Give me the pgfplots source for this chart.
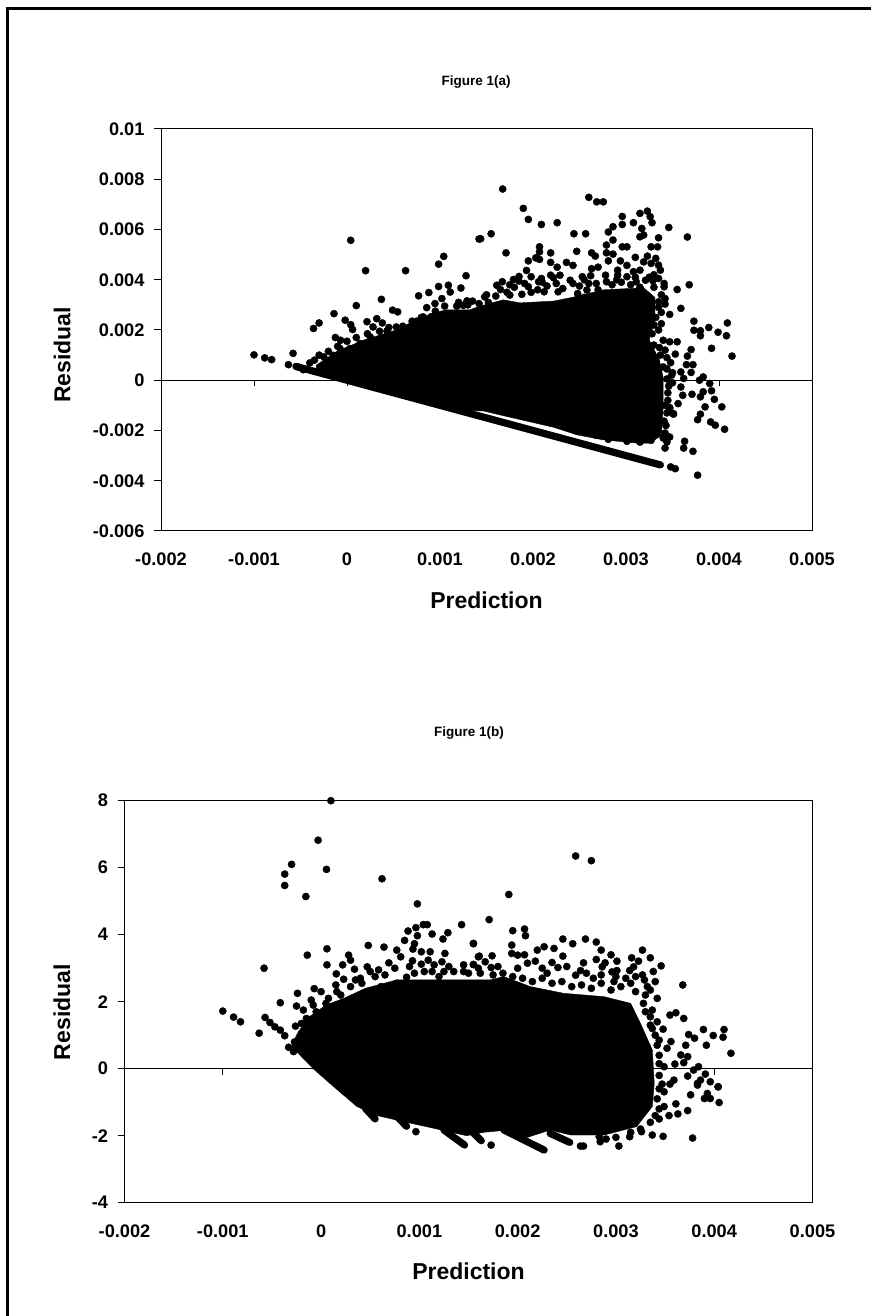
\documentclass[border=0pt]{standalone}
\usepackage{pgfplots}
\usepackage{pgfplotstable}
\usepackage{fontspec}
\setmainfont{Liberation Sans}
\pgfplotsset{compat=1.18}
% x and (in a) y columns are in units of 0.001
\pgfplotstableread[row sep=\\]{x y\\
-1.00 1.01\\ -0.885 0.89\\ -0.81 0.82\\ -0.63 0.62\\ -0.58 1.07\\ -0.52 0.52\\ -0.47 0.42\\ -0.40 0.69\\ -0.36 2.06\\ -0.30 2.28\\ -0.14 2.65\\ -0.125 1.70\\ -0.07 1.59\\ -0.075 1.26\\ -0.02 2.39\\ 0.04 5.57\\ 0.04 2.21\\ 0.06 2.02\\ 0.10 2.97\\ 0.20 4.36\\ 0.215 2.33\\ 0.32 2.45\\ 0.28 2.12\\ 0.38 2.28\\ 0.37 3.22\\ 0.63 4.36\\ 0.49 2.79\\ 0.545 2.72\\ 0.77 3.36\\ 0.88 3.49\\ 0.985 4.62\\ 1.04 4.93\\ 0.985 3.73\\ 1.09 3.78\\ 1.11 3.51\\ 1.28 4.16\\ 1.225 3.67\\ 1.29 3.16\\ 1.42 5.62\\ 1.25 2.98\\ 0.857 2.89\\ 1.02 3.25\\ 0.946 3.05\\ 0.75 2.35\\ 0.82 2.52\\ 0.67 2.12\\ 0.53 2.12\\ 0.43 1.96\\ 0.25 1.72\\ 0.14 1.46\\ 0.03 1.26\\ -0.147 0.99\\ -0.25 0.93\\ 0.34 1.62\\ 1.36 2.65\\
1.674 7.61\\ 2.60 7.28\\ 2.685 7.10\\ 2.756 7.10\\ 1.896 6.84\\ 1.95 6.40\\ 2.09 6.20\\ 2.26 6.27\\ 1.437 5.63\\ 1.55 5.83\\ 1.71 5.07\\ 2.44 5.83\\ 2.566 5.83\\ 2.96 6.52\\ 2.96 6.20\\ 3.08 6.27\\ 3.15 6.64\\ 3.23 6.73\\ 3.26 6.51\\ 3.28 6.27\\ 2.86 6.11\\ 2.81 5.90\\ 3.46 6.08\\ 3.66 5.70\\ 3.17 6.04\\ 3.19 5.78\\ 3.15 5.71\\ 3.35 5.67\\ 2.86 5.58\\ 2.79 5.38\\ 2.96 5.31\\ 3.01 5.31\\ 3.27 5.31\\ 3.34 5.31\\ 2.07 5.31\\ 2.07 5.11\\ 2.19 5.07\\ 2.47 5.13\\ 2.63 5.07\\ 2.67 4.94\\ 2.79 5.07\\ 2.86 5.02\\ 3.10 4.89\\ 3.23 4.94\\ 3.32 4.85\\ 1.95 4.75\\ 2.03 4.87\\ 2.07 4.81\\ 2.19 4.69\\ 2.36 4.69\\ 2.43 4.57\\ 2.81 4.75\\ 2.94 4.75\\ 3.01 4.57\\ 3.19 4.71\\ 3.27 4.65\\ 3.35 4.58\\ 3.37 4.38\\ 2.26 4.50\\ 1.93 4.37\\ 2.70 4.50\\ 2.63 4.44\\ 2.91 4.38\\ 3.08 4.32\\ 3.15 4.38\\ 1.85 4.13\\ 1.79 4.01\\ 1.98 4.12\\ 2.09 4.05\\ 2.19 4.18\\ 2.29 4.18\\ 2.22 4.08\\ 2.53 4.12\\ 2.62 4.16\\ 2.78 4.18\\ 2.91 4.18\\ 3.01 4.12\\ 1.61 3.78\\ 1.67 3.92\\ 1.65 3.61\\ 1.91 3.85\\ 2.06 3.92\\ 1.95 3.72\\ 2.40 3.98\\ 2.43 3.85\\ 2.68 3.85\\ 2.79 3.92\\ 3.11 3.92\\ 3.21 3.98\\ 3.29 3.96\\ 3.41 3.85\\ 3.41 3.72\\ 3.55 3.61\\ 3.68 3.80\\ 1.48 3.32\\ 1.75 3.39\\ 2.12 3.52\\ 2.27 3.52\\ 2.48 3.45\\ 2.58 3.59\\ 3.59 2.86\\ 3.35 3.12\\ 3.42 3.03\\ 3.47 2.62\\ 3.73 2.35\\ 3.73 1.99\\ 3.80 1.97\\ 3.80 1.77\\ 3.89 2.10\\ 3.99 1.91\\ 4.09 2.28\\ 4.08 1.77\\ 3.92 1.27\\ 4.14 0.96\\ 3.55 1.53\\ 3.47 1.53\\ 3.40 1.59\\ 3.70 1.22\\ 3.66 0.96\\ 3.53 1.04\\ 3.37 1.0\\ 3.65 0.62\\ 3.72 0.62\\ 3.70 0.31\\ 3.40 0.53\\ 3.49 0.2\\ 3.59 0.33\\ 3.62 0.07\\ 3.83 0.13\\ 3.79 0\\ 3.90 -0.13\\ 3.92 -0.42\\ 3.46 -0.23\\ 3.59 -0.27\\ 3.61 -0.6\\ 3.71 -0.56\\ 3.80 -0.66\\ 3.83 -0.46\\ 3.95 -0.76\\ 4.03 -1.06\\ 3.85 -1.06\\ 3.56 -0.93\\ 3.47 -1.09\\ 3.51 -1.33\\
3.47 -1.13\\ 3.51 -1.35\\ 3.41 -1.63\\ 3.80 -1.35\\ 3.77 -1.57\\ 3.91 -1.66\\ 3.96 -1.79\\ 4.06 -1.95\\ 3.47 -2.26\\ 3.44 -2.46\\ 3.42 -2.70\\ 3.63 -2.43\\ 3.62 -2.70\\ 3.72 -2.83\\ 3.48 -3.45\\ 3.53 -3.52\\ 3.77 -3.78\\ 3.35 -1.86\\ 3.33 -2.12\\ 3.27 -2.39\\ 3.15 -2.46\\ 3.01 -2.43\\ 2.81 -2.35\\ 2.68 -2.19\\
1.52 3.1\\ 1.6 3.35\\ 1.72 3.5\\ 1.8 3.7\\ 1.88 3.42\\ 1.98 3.5\\ 2.05 3.6\\ 2.15 3.75\\ 2.25 3.85\\ 2.32 3.65\\ 2.5 3.75\\ 2.6 3.85\\ 2.7 3.6\\ 2.85 3.8\\ 2.95 3.9\\ 3.05 3.8\\ 3.15 3.7\\ 3.3 3.7\\ 2.55 3.3\\ 2.9 4.0\\ 3.1 4.1\\ 3.3 4.2\\ 3.25 4.1\\ 3.35 4.05\\ 2.55 4.0\\ 2.1 3.9\\ 1.85 3.95\\ 1.75 3.8\\ 3.38 3.4\\ 3.42 3.25\\ 3.35 2.9\\ 3.38 2.7\\ 3.32 2.5\\ 3.3 2.2\\ 3.38 2.25\\ 3.35 2.0\\ 3.28 1.85\\ 3.3 1.4\\ 3.36 1.3\\ 3.42 1.2\\ 3.44 0.9\\ 3.48 0.7\\ 3.44 0.45\\ 3.5 0.3\\ 3.44 0.05\\ 3.5 -0.1\\ 3.45 -0.5\\ 3.45 -0.8\\ 3.42 -1.0\\ 3.44 -1.3\\ 3.43 -1.8\\ 3.42 -2.1\\ 3.4 -2.3\\ 1.42 3.05\\ 1.3 3.0\\ 1.18 2.95\\ 1.05 2.95\\ 0.95 2.75\\ 0.8 2.5\\ 0.7 2.35\\ 0.6 2.15\\ 0.45 2.1\\ 0.35 1.95\\ 0.22 1.85\\ 0.1 1.7\\ 0.0 1.55\\ -0.1 1.35\\ -0.2 1.15\\ -0.3 1.0\\ -0.35 0.8\\ 1.2 3.1\\ 1.35 3.15\\ 1.5 3.4\\
}\ptsA
\pgfplotstableread[row sep=\\]{x y\\
-0.33 0.33\\ -0.33 0.6\\ -0.11 1.15\\ 0.18 1.6\\ 0.53 2.0\\ 0.785 2.35\\ 0.89 2.65\\ 1.07 2.8\\ 1.32 2.8\\ 1.43 2.95\\ 1.68 3.2\\ 1.86 3.08\\ 2.22 3.15\\ 2.40 3.28\\ 2.76 3.6\\ 3.19 3.68\\ 3.31 3.3\\ 3.31 2.39\\ 3.25 1.6\\ 3.36 0.8\\ 3.40 0.1\\ 3.40 -1.06\\ 3.38 -2.19\\ 3.26 -2.5\\ 3.11 -2.5\\ 2.75 -2.37\\ 2.47 -2.17\\ 2.22 -1.87\\ 1.68 -1.41\\ 1.465 -1.22\\ 1.2 -1.2\\
}\blobA
\pgfplotstableread[row sep=\\]{x y\\
-0.55 0.55\\ 3.37 -3.37\\
}\lineA
\pgfplotstableread[row sep=\\]{x y\\
0.10 8.0\\ -0.03 6.82\\ -0.30 6.10\\ -0.37 5.81\\ -0.37 5.47\\ 0.055 5.95\\ -0.155 5.14\\ 0.62 5.67\\ 0.98 4.92\\ 1.04 4.30\\ 1.08 4.30\\ 0.965 4.21\\ 0.885 4.11\\ 1.43 4.30\\ 1.13 4.02\\ 0.98 3.97\\ 1.29 4.06\\ 1.24 3.87\\ 0.85 3.83\\ 0.95 3.73\\ 0.935 3.57\\ 1.55 3.73\\ 0.48 3.68\\ 0.64 3.63\\ 0.77 3.54\\ 0.06 3.58\\ -0.14 3.39\\ 0.28 3.39\\ 0.30 3.24\\ -0.58 3.00\\ 0.06 3.10\\ 0.22 3.10\\ 0.34 2.97\\ 0.47 3.04\\ 0.585 2.95\\ 0.69 3.16\\ 0.81 3.34\\ 0.93 3.22\\ 1.02 3.49\\ 1.11 3.49\\ 1.02 3.12\\ 1.09 3.24\\ 1.23 3.19\\ 1.26 3.44\\ 1.60 3.34\\ 1.55 3.11\\ 0.155 2.83\\ 0.23 2.67\\ 0.415 2.55\\ 0.61 2.45\\ -0.07 2.39\\ -0.24 2.25\\ -0.415 1.97\\ -0.25 1.87\\ -1.0 1.72\\ -0.89 1.54\\ -0.82 1.40\\ -0.63 1.06\\ -0.57 1.53\\ -0.52 1.38\\ -0.47 1.25\\ -0.415 1.15\\ -0.37 0.985\\ -0.26 1.27\\ -0.18 1.75\\ -0.08 1.90\\ 0.075 2.10\\ 0.16 2.30\\ 0.30 2.45\\ -0.33 0.64\\ -0.28 0.51\\ 1.13 2.90\\ 1.25 2.90\\ 1.35 2.90\\ 1.45 2.90\\ 0.77 2.55\\ 0.87 2.73\\
2.59 6.35\\ 2.75 6.21\\ 1.91 5.20\\ 1.71 4.45\\ 1.55 3.74\\ 1.95 4.12\\ 2.07 4.17\\ 2.08 3.97\\ 1.94 3.69\\ 1.94 3.44\\ 2.0 3.39\\ 2.07 3.40\\ 1.61 3.36\\ 1.74 3.37\\ 1.67 3.19\\ 1.55 3.11\\ 1.73 3.02\\ 2.20 3.54\\ 2.27 3.64\\ 2.37 3.59\\ 2.46 3.87\\ 2.56 3.73\\ 2.69 3.87\\ 2.80 3.78\\ 2.85 3.54\\ 2.46 3.36\\ 2.18 3.21\\ 2.35 3.17\\ 2.41 3.02\\ 2.67 3.16\\ 2.80 3.26\\ 2.86 3.04\\ 2.89 3.16\\ 2.95 3.40\\ 3.01 3.21\\ 3.16 3.31\\ 3.23 3.21\\ 3.27 3.54\\ 3.35 3.31\\ 3.46 3.07\\ 3.18 3.04\\ 3.14 2.93\\ 2.64 2.93\\ 2.59 2.79\\ 2.96 2.89\\ 3.01 2.93\\ 3.27 2.80\\ 3.68 2.50\\ 2.77 2.70\\ 2.98 2.60\\ 3.29 2.65\\ 3.32 2.45\\ 3.35 2.35\\ 3.42 2.10\\ 3.55 1.60\\ 3.61 1.67\\ 3.69 1.50\\ 3.37 1.75\\ 3.42 1.40\\ 3.48 1.18\\ 3.37 1.20\\ 3.44 0.85\\ 3.56 0.81\\ 3.52 0.61\\ 3.89 1.17\\ 3.74 1.02\\ 3.80 0.91\\ 3.99 0.99\\ 4.09 0.94\\ 4.10 1.17\\ 3.92 0.70\\ 3.71 0.70\\ 4.17 0.46\\ 3.66 0.41\\ 3.73 0.36\\ 3.69 0.18\\ 3.60 0.14\\ 3.49 0.06\\ 3.84 0.06\\ 3.79 -0.04\\ 3.91 -0.16\\ 3.73 -0.22\\ 3.96 -0.39\\ 4.04 -0.54\\ 3.83 -0.44\\ 3.55 -0.46\\ 3.47 -0.46\\
1.73 -2.28\\ 0.965 -1.88\\ 2.64 -2.31\\ 2.67 -2.31\\ 2.84 -2.18\\ 2.83 -2.03\\ 3.03 -2.31\\ 3.14 -2.03\\ 3.26 -1.88\\ 3.37 -1.98\\ 3.48 -2.02\\ 3.78 -2.07\\ 3.44 -1.50\\ 3.54 -1.40\\ 3.63 -1.35\\ 3.73 -1.25\\ 3.61 -1.05\\ 3.49 -1.13\\ 3.76 -0.78\\ 3.93 -0.74\\ 3.90 -0.89\\ 3.96 -0.89\\ 4.05 -1.01\\ 4.04 -0.54\\ 3.83 -0.49\\ 3.86 -0.34\\ 3.49 -0.69\\ 3.59 -0.34\\
0.4 2.7\\ 0.55 2.75\\ 0.65 2.8\\ 0.95 2.85\\ 1.05 2.9\\ 1.2 2.75\\ 1.5 2.85\\ 1.62 2.85\\ 1.75 2.8\\ 1.85 2.85\\ 1.95 2.75\\ 2.05 2.7\\ 2.15 2.6\\ 2.25 2.7\\ 2.35 2.55\\ 2.45 2.6\\ 2.55 2.45\\ 2.65 2.5\\ 2.75 2.4\\ 2.85 2.55\\ 2.95 2.35\\ 3.05 2.45\\ 3.15 2.55\\ 3.2 2.3\\ 3.3 2.2\\ 3.28 1.95\\ 3.3 1.7\\ 3.35 1.55\\ 3.35 1.3\\ 3.4 1.0\\ 3.42 0.7\\ 3.44 0.4\\ 3.44 0.15\\ 3.44 -0.2\\ 3.44 -0.6\\ 3.42 -0.9\\ 3.44 -1.2\\ 3.4 -1.4\\ 3.35 -1.6\\ 3.25 -1.8\\ 3.15 -1.9\\ 3.0 -2.05\\ 2.9 -2.1\\ -0.2 1.35\\ -0.15 1.5\\ -0.05 1.7\\ 0.05 1.95\\ 0.2 2.2\\ -0.1 1.45\\ -0.2 1.05\\ -0.27 0.8\\
1.6 3.0\\ 1.8 3.05\\ 2.0 3.0\\ 2.1 3.15\\ 2.25 3.0\\ 2.3 2.85\\ 2.5 3.05\\ 2.7 2.85\\ 2.85 2.8\\ 3.0 2.75\\ 3.1 2.7\\ 3.2 2.75\\ 3.38 2.9\\ 3.4 2.6\\ 0.5 2.9\\ 0.75 3.0\\ 0.9 3.05\\ 1.15 3.1\\ 1.3 3.05\\ 1.45 3.1\\ 0.0 2.3\\ -0.1 2.05\\ 0.15 2.5\\ 0.35 2.65\\
}\ptsB
\pgfplotstableread[row sep=\\]{x y\\
-0.30 0.66\\ -0.25 1.0\\ -0.145 1.5\\ 0.05 1.9\\ 0.23 2.1\\ 0.45 2.4\\ 0.77 2.65\\ 1.04 2.65\\ 1.45 2.65\\ 1.72 2.65\\ 1.86 2.75\\ 2.13 2.45\\ 2.47 2.25\\ 2.88 2.15\\ 3.15 1.95\\ 3.25 1.35\\ 3.37 0.56\\ 3.39 -0.44\\ 3.37 -1.13\\ 3.21 -1.73\\ 2.88 -1.98\\ 2.54 -1.98\\ 2.33 -1.83\\ 2.10 -2.05\\ 1.90 -1.83\\ 1.65 -1.9\\ 1.48 -2.0\\ 1.18 -1.8\\ 0.87 -1.60\\ 0.57 -1.4\\ 0.365 -1.13\\ 0.09 -0.44\\ -0.08 0\\
}\blobB
\pgfplotsset{
  mychart/.style={
    scale only axis, width=#1, height=402pt, clip=false, scaled ticks=false,
    tick align=outside, major tick length=7pt, tick style={black, line width=1pt},
    axis line style={black, line width=1pt},
    xtick pos=lower, ytick pos=left,
    x tick style={draw=none},
    xmin=-0.002, xmax=0.005,
    xtick={-0.002,-0.001,0,0.001,0.002,0.003,0.004,0.005},
    xticklabels={-0.002,-0.001,0,0.001,0.002,0.003,0.004,0.005},
    ticklabel style={font=\fontsize{18.2}{20}\selectfont\bfseries},
    label style={font=\fontsize{23}{26}\selectfont\bfseries},
    title style={font=\fontsize{13.5}{15}\selectfont\bfseries},
    xticklabel style={yshift=-11.5pt},
    yticklabel style={xshift=-6pt},
  },
  dots/.style={only marks, mark=*, mark size=3.6pt, mark options={fill=black, draw=none}},
  stripe/.style={black, line width=7.2pt, line cap=round},
}
\begin{document}
\begin{tikzpicture}[x=1pt,y=1pt]
\path[use as bounding box] (0,0) rectangle (871,1316);
\draw[line width=2.8pt, black] (7.2,0) -- (7.2,1307.5) -- (871,1307.5);
% ---------- Figure 1(a)
\begin{axis}[mychart=651pt, at={(161pt,785pt)}, anchor=south west,
  ymin=-0.006, ymax=0.01,
  ytick={-0.006,-0.004,-0.002,0,0.002,0.004,0.006,0.008,0.01},
  yticklabels={-0.006,-0.004,-0.002,0,0.002,0.004,0.006,0.008,0.01},
  title={Figure 1(a)}, title style={at={(axis description cs:0.484,1.102)}, anchor=center},
  xlabel={Prediction}, xlabel style={at={(axis description cs:0.5,-0.1716)}, anchor=center},
  ylabel={Residual}, ylabel style={at={(axis description cs:-0.152,0.438)}, anchor=center},
]
\addplot[fill=black, draw=black] table[x expr=\thisrow{x}/1000, y expr=\thisrow{y}/1000]{\blobA} -- cycle;
\addplot[stripe] table[x expr=\thisrow{x}/1000, y expr=\thisrow{y}/1000]{\lineA};
\addplot[dots] table[x expr=\thisrow{x}/1000, y expr=\thisrow{y}/1000]{\ptsA};
\draw[black, line width=1pt] (axis cs:-0.002,0) -- (axis cs:0.005,0);
\foreach \t in {-0.002,-0.001,0,0.001,0.002,0.003,0.004,0.005}
  {\edef\temp{\noexpand\draw[black, line width=1pt] (axis cs:\t,0) -- (axis cs:\t,-0.00024);}\temp}
\end{axis}
% ---------- Figure 1(b)
\begin{axis}[mychart=688pt, at={(124.5pt,113.3pt)}, anchor=south west,
  ymin=-4, ymax=8, ytick={-4,-2,0,2,4,6,8},
  title={Figure 1(b)}, title style={at={(axis description cs:0.5007,1.154)}, anchor=center},
  xlabel={Prediction}, xlabel style={at={(axis description cs:0.5,-0.1716)}, anchor=center},
  ylabel={Residual}, ylabel style={at={(axis description cs:-0.0908,0.474)}, anchor=center},
  /pgf/number format/assume math mode=true,
]
\addplot[fill=black, draw=black] table[x expr=\thisrow{x}/1000, y=y]{\blobB} -- cycle;
\addplot[stripe] coordinates {(0.00045,-1.18) (0.00055,-1.50)};
\addplot[stripe] coordinates {(0.00074,-1.33) (0.00087,-1.72)};
\addplot[stripe] coordinates {(0.00125,-1.83) (0.00146,-2.28)};
\addplot[stripe] coordinates {(0.00152,-1.83) (0.00163,-2.15)};
\addplot[stripe] coordinates {(0.00186,-1.83) (0.00227,-2.43)};
\addplot[stripe] coordinates {(0.00233,-1.93) (0.00253,-2.2)};
\addplot[dots] table[x expr=\thisrow{x}/1000, y=y]{\ptsB};
\draw[black, line width=1pt] (axis cs:-0.002,0) -- (axis cs:0.005,0);
\foreach \t in {-0.002,-0.001,0,0.001,0.002,0.003,0.004,0.005}
  {\edef\temp{\noexpand\draw[black, line width=1pt] (axis cs:\t,0) -- (axis cs:\t,-0.18);}\temp}
\end{axis}
\end{tikzpicture}
\end{document}
